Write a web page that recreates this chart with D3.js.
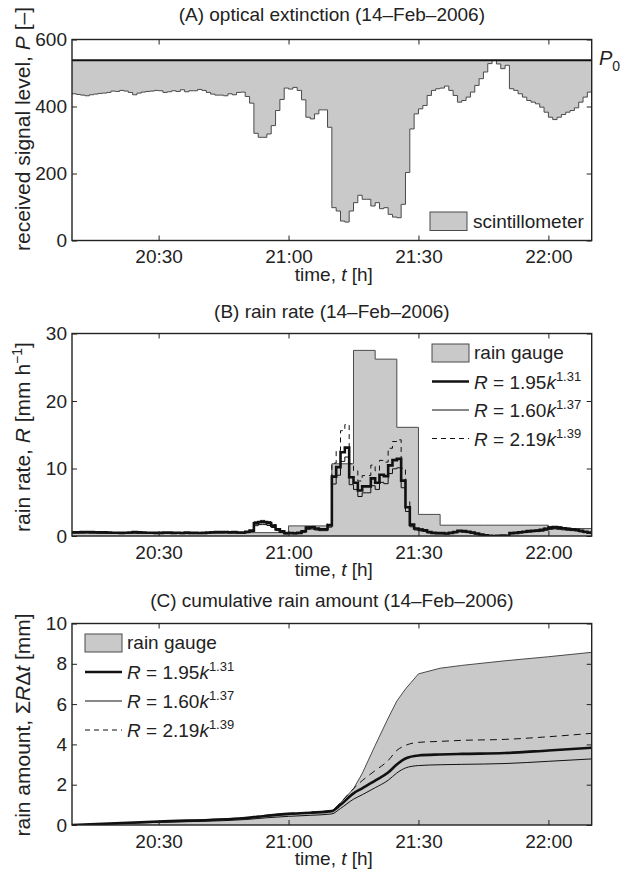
<!DOCTYPE html>
<html>
<head>
<meta charset="utf-8">
<script src="https://cdn.jsdelivr.net/npm/d3@7"></script>
<style>
  body { margin: 0; background: #fff; }
  text { font-family: "Liberation Sans", Arial, sans-serif; fill: #222; }
</style>
</head>
<body>
<svg id="chart" width="622" height="871"></svg>
<script>
// time axis
const startTime = "20:10";
const endTime = "22:10";
const tickLabels = ["20:30", "21:00", "21:30", "22:00"];

// (A) scintillometer received signal, one value per minute from 20:10
const signalLevel = [
  438,436,434,432,435,437,439,440,442,446,
  445,448,446,442,435,440,443,445,446,448,
  447,442,444,447,445,450,444,447,447,451,
  448,442,437,434,434,432,438,435,442,443,
  430,410,320,308,308,318,343,388,421,455,
  452,457,448,420,368,363,378,390,390,338,
  98,88,58,55,88,113,135,123,123,103,
  113,95,98,78,70,68,108,203,333,378,
  393,403,433,448,453,455,461,448,433,413,
  418,428,443,463,483,503,528,537,527,513,
  523,453,448,438,428,418,413,408,398,383,
  368,361,368,376,383,388,396,413,428,443
];
const p0Level = 538;
const signalTicks = [0, 200, 400, 600];

// (B) rain gauge, 5-minute bins
const gaugeBins = ["20:10","20:15","20:20","20:25","20:30","20:35","20:40","20:45",
  "20:50","20:55","21:00","21:05","21:10","21:15","21:20","21:25",
  "21:30","21:35","21:40","21:45","21:50","21:55","22:00","22:05"];
const gaugeRate = [0.5,0.5,0.5,0.5,0.5,0.5,0.5,0.5,
  0.5,0.5,1.5,1.5,10.7,27.5,26.2,16.1,
  3.2,1.6,1.6,1.6,1.6,1.6,1.1,1.1];

// (B) rain rate from scintillometer, one value per minute from 20:10
const rate195 = [
  0.55,0.56,0.58,0.60,0.57,0.56,0.54,0.53,0.52,0.48,
  0.49,0.47,0.48,0.52,0.57,0.53,0.51,0.49,0.48,0.47,
  0.47,0.52,0.50,0.47,0.49,0.45,0.50,0.47,0.47,0.45,
  0.47,0.52,0.56,0.58,0.58,0.60,0.55,0.57,0.52,0.51,
  0.62,0.80,1.87,2.05,2.05,1.90,1.54,1.01,0.69,0.42,
  0.44,0.40,0.47,0.70,1.24,1.30,1.12,0.99,0.99,1.61,
  8.8,10.2,12.4,13.1,8.7,7.90,6.74,7.35,7.35,8.53,
  7.90,9.08,8.87,10.46,11.24,11.43,8.21,4.26,1.68,1.12,
  0.96,0.86,0.59,0.47,0.43,0.42,0.37,0.47,0.59,0.77,
  0.72,0.63,0.51,0.36,0.23,0.12,0.02,0,0.03,0.08,
  0.04,0.43,0.47,0.55,0.63,0.72,0.77,0.82,0.91,1.07,
  1.24,1.32,1.24,1.14,1.07,1.01,0.93,0.77,0.63,0.51
];
const rate160 = [
  0.42,0.43,0.45,0.46,0.44,0.43,0.42,0.41,0.40,0.37,
  0.38,0.36,0.37,0.40,0.44,0.41,0.39,0.38,0.37,0.36,
  0.36,0.40,0.39,0.36,0.38,0.35,0.39,0.36,0.36,0.35,
  0.36,0.40,0.43,0.45,0.45,0.46,0.42,0.44,0.40,0.39,
  0.48,0.63,1.53,1.69,1.69,1.56,1.26,0.80,0.54,0.32,
  0.34,0.31,0.36,0.55,0.99,1.04,0.89,0.79,0.79,1.31,
  7.7,9.0,11.05,11.7,7.6,6.9,5.85,6.4,6.4,7.45,
  6.9,7.95,7.75,9.25,9.95,10.1,7.15,3.63,1.37,0.89,
  0.76,0.68,0.46,0.36,0.33,0.32,0.28,0.36,0.46,0.61,
  0.57,0.49,0.39,0.27,0.17,0.09,0.01,0,0.02,0.06,
  0.03,0.33,0.36,0.43,0.49,0.57,0.61,0.65,0.72,0.85,
  0.99,1.06,0.99,0.91,0.85,0.80,0.74,0.61,0.49,0.39
];
const rate219 = [
  0.57,0.58,0.60,0.62,0.59,0.58,0.56,0.55,0.54,0.49,
  0.50,0.48,0.49,0.54,0.59,0.55,0.53,0.50,0.49,0.48,
  0.48,0.54,0.52,0.48,0.50,0.46,0.52,0.48,0.48,0.46,
  0.48,0.54,0.58,0.60,0.60,0.62,0.57,0.59,0.54,0.53,
  0.65,0.85,2.10,2.31,2.31,2.13,1.71,1.09,0.73,0.43,
  0.45,0.41,0.48,0.74,1.35,1.42,1.22,1.07,1.07,1.79,
  10.8,12.65,15.6,16.5,10.7,9.65,8.15,8.95,8.95,10.5,
  9.65,11.2,10.95,13.0,14.0,14.25,10.05,5.05,1.87,1.22,
  1.03,0.92,0.61,0.48,0.44,0.43,0.38,0.48,0.61,0.82,
  0.77,0.66,0.53,0.37,0.23,0.12,0.02,0,0.03,0.08,
  0.04,0.44,0.48,0.57,0.66,0.77,0.82,0.87,0.97,1.16,
  1.35,1.44,1.35,1.24,1.16,1.09,1.0,0.82,0.66,0.53
];
const rateTicks = [0, 10, 20, 30];

// (C) cumulative rain amount
const cumTimes = ["20:10","20:30","20:50","20:55","21:00","21:05","21:10","21:12","21:15",
  "21:17","21:20","21:23","21:25","21:27","21:30","21:35","21:40","21:50","22:00","22:10"];
const cumGauge = [0,0.17,0.35,0.44,0.52,0.6,0.67,1.1,1.8,2.55,3.95,5.3,6.15,6.75,7.5,7.78,7.92,8.15,8.35,8.57];
const cum195 = [0,0.17,0.35,0.46,0.55,0.61,0.69,1.0,1.57,1.82,2.2,2.6,3.0,3.3,3.45,3.5,3.53,3.57,3.7,3.83];
const cum160 = [0,0.13,0.27,0.36,0.43,0.48,0.55,0.82,1.28,1.5,1.85,2.22,2.58,2.83,2.95,2.99,3.01,3.05,3.16,3.28];
const cum219 = [0,0.17,0.36,0.49,0.58,0.64,0.73,1.12,1.8,2.2,2.7,3.2,3.7,3.95,4.1,4.15,4.2,4.25,4.38,4.55];
const cumTicks = [0, 2, 4, 6, 8, 10];

const fitLabels = [
  { a: "1.95", b: "1.31", width: 2.6, dash: null },
  { a: "1.60", b: "1.37", width: 1, dash: null },
  { a: "2.19", b: "1.39", width: 1, dash: "5,4" }
];

const parseTime = d3.timeParse("%H:%M");
const t0 = parseTime(startTime);
const fontSize = 19;
const labelSize = 21;
const grey = "#c9c9c9";
const edge = "#4a4a4a";

const svg = d3.select("#chart");
const left = 72, right = 591.7;

const x = d3.scaleTime()
  .domain([t0, parseTime(endTime)])
  .range([left, right]);

function perMinute(values) {
  const pts = values.map((v, i) => ({ t: d3.timeMinute.offset(t0, i), v: v }));
  pts.push({ t: d3.timeMinute.offset(t0, values.length), v: values[values.length - 1] });
  return pts;
}

function drawFrame(g, y, ticks, top, bottom, id) {
  g.append("clipPath").attr("id", id)
    .append("rect").attr("x", left).attr("y", top)
    .attr("width", right - left).attr("height", bottom - top);

  g.append("g").attr("transform", "translate(0," + bottom + ")")
    .call(d3.axisBottom(x).tickValues(tickLabels.map(parseTime))
      .tickFormat(d3.timeFormat("%H:%M")).tickSizeInner(-5).tickSizeOuter(0).tickPadding(9.5));
  g.append("g").attr("transform", "translate(" + left + ",0)")
    .call(d3.axisLeft(y).tickValues(ticks).tickSizeInner(-5).tickSizeOuter(0).tickPadding(5));
  g.append("g").attr("transform", "translate(0," + top + ")")
    .call(d3.axisTop(x).tickValues(tickLabels.map(parseTime)).tickSizeInner(-5).tickSizeOuter(0).tickFormat(""));
  g.append("g").attr("transform", "translate(" + right + ",0)")
    .call(d3.axisRight(y).tickValues(ticks).tickSizeInner(-5).tickSizeOuter(0).tickFormat(""));

  g.selectAll(".domain").remove();
  g.selectAll(".tick line").attr("stroke", "#222").attr("stroke-width", 1);
  g.selectAll(".tick text").attr("font-size", fontSize)
    .attr("font-family", "Liberation Sans, Arial, sans-serif").attr("fill", "#222");

  g.append("rect").attr("x", left).attr("y", top)
    .attr("width", right - left).attr("height", bottom - top)
    .attr("fill", "none").attr("stroke", "#222").attr("stroke-width", 1.4);
}

function titleAndXLabel(g, title, titleY, bottom) {
  g.append("text").attr("x", (left + right) / 2).attr("y", titleY)
    .attr("text-anchor", "middle").attr("font-size", fontSize).text(title);
  const t = g.append("text").attr("x", (left + right) / 2 + 2).attr("y", bottom + 40)
    .attr("text-anchor", "middle").attr("font-size", fontSize);
  t.append("tspan").text("time, ");
  t.append("tspan").attr("font-style", "italic").text("t");
  t.append("tspan").text(" [h]");
}

function yLabel(g, cy, parts) {
  const t = g.append("text").attr("transform", "translate(30," + cy + ") rotate(-90)")
    .attr("text-anchor", "middle").attr("font-size", labelSize);
  parts.forEach(p => {
    const s = t.append("tspan").text(p.s);
    if (p.i) s.attr("font-style", "italic");
    if (p.sup) s.attr("font-size", 14).attr("dy", -8);
    if (p.down) s.attr("dy", 8);
  });
}

function legendEntries(g, lx, ly, step) {
  g.append("rect").attr("x", lx).attr("y", ly - 9).attr("width", 37).attr("height", 18)
    .attr("fill", grey).attr("stroke", edge).attr("stroke-width", 1);
  g.append("text").attr("x", lx + 42).attr("y", ly + 6).attr("font-size", fontSize).text("rain gauge");
  fitLabels.forEach((f, i) => {
    const yy = ly + step * (i + 1);
    g.append("line").attr("x1", lx).attr("x2", lx + 37).attr("y1", yy).attr("y2", yy)
      .attr("stroke", "#111").attr("stroke-width", f.width)
      .attr("stroke-dasharray", f.dash);
    const t = g.append("text").attr("x", lx + 42).attr("y", yy + 7).attr("font-size", fontSize);
    t.append("tspan").attr("font-style", "italic").text("R");
    t.append("tspan").text(" = " + f.a);
    t.append("tspan").attr("font-style", "italic").text("k");
    t.append("tspan").attr("font-size", 13).attr("dy", -8).text(f.b);
  });
}

// ---------- (A) optical extinction ----------
{
  const top = 39.5, bottom = 240.5;
  const g = svg.append("g");
  const y = d3.scaleLinear().domain([0, 600]).range([bottom, top]);
  const pts = perMinute(signalLevel);

  g.append("path").datum(pts)
    .attr("clip-path", "url(#clipA)")
    .attr("d", d3.area().curve(d3.curveStepAfter)
      .x(d => x(d.t)).y0(y(p0Level)).y1(d => y(d.v)))
    .attr("fill", grey);
  g.append("path").datum(pts)
    .attr("clip-path", "url(#clipA)")
    .attr("d", d3.line().curve(d3.curveStepAfter).x(d => x(d.t)).y(d => y(d.v)))
    .attr("fill", "none").attr("stroke", edge).attr("stroke-width", 1);
  g.append("line").attr("x1", left).attr("x2", right)
    .attr("y1", y(p0Level)).attr("y2", y(p0Level))
    .attr("stroke", "#111").attr("stroke-width", 2.2);

  drawFrame(g, y, signalTicks, top, bottom, "clipA");
  titleAndXLabel(g, "(A) optical extinction (14\u2013Feb\u20132006)", 21, bottom);

  const p = g.append("text").attr("x", 599).attr("y", y(p0Level) + 5).attr("font-size", 20);
  p.append("tspan").attr("font-style", "italic").text("P");
  p.append("tspan").attr("font-size", 14).attr("dy", 6).text("0");

  g.append("rect").attr("x", 430).attr("y", 212).attr("width", 37).attr("height", 18.5)
    .attr("fill", grey).attr("stroke", edge).attr("stroke-width", 1);
  g.append("text").attr("x", 473).attr("y", 228).attr("font-size", fontSize).text("scintillometer");

  yLabel(g, 129, [{ s: "received signal level, " }, { s: "P", i: true }, { s: " [\u2013]" }]);
}

// ---------- (B) rain rate ----------
{
  const top = 333.5, bottom = 536;
  const g = svg.append("g");
  const y = d3.scaleLinear().domain([0, 30]).range([bottom, top]);

  const gpts = gaugeBins.map((s, i) => ({ t: parseTime(s), v: gaugeRate[i] }));
  gpts.push({ t: parseTime(endTime), v: gaugeRate[gaugeRate.length - 1] });

  g.append("path").datum(gpts).attr("clip-path", "url(#clipB)")
    .attr("d", d3.area().curve(d3.curveStepAfter).x(d => x(d.t)).y0(y(0)).y1(d => y(d.v)))
    .attr("fill", grey);
  g.append("path").datum(gpts).attr("clip-path", "url(#clipB)")
    .attr("d", d3.line().curve(d3.curveStepAfter).x(d => x(d.t)).y(d => y(d.v)))
    .attr("fill", "none").attr("stroke", edge).attr("stroke-width", 1);

  const stepLine = d3.line().curve(d3.curveStepAfter).x(d => x(d.t)).y(d => y(d.v));
  [[rate219, 1, "5,4"], [rate160, 1, null], [rate195, 2.6, null]].forEach(([vals, w, dash]) => {
    g.append("path").datum(perMinute(vals)).attr("clip-path", "url(#clipB)")
      .attr("d", stepLine).attr("fill", "none")
      .attr("stroke", "#111").attr("stroke-width", w).attr("stroke-dasharray", dash);
  });

  drawFrame(g, y, rateTicks, top, bottom, "clipB");
  titleAndXLabel(g, "(B) rain rate (14\u2013Feb\u20132006)", 318, bottom);
  legendEntries(g, 432, 353, 28.5);

  yLabel(g, 437, [{ s: "rain rate, " }, { s: "R", i: true }, { s: " [mm h" }, { s: "\u22121", sup: true }, { s: "]", down: true }]);
}

// ---------- (C) cumulative rain amount ----------
{
  const top = 623.5, bottom = 825;
  const g = svg.append("g");
  const y = d3.scaleLinear().domain([0, 10]).range([bottom, top]);
  const times = cumTimes.map(parseTime);

  g.append("path").datum(cumGauge).attr("clip-path", "url(#clipC)")
    .attr("d", d3.area().x((d, i) => x(times[i])).y0(y(0)).y1(d => y(d)))
    .attr("fill", grey);
  g.append("path").datum(cumGauge).attr("clip-path", "url(#clipC)")
    .attr("d", d3.line().x((d, i) => x(times[i])).y(d => y(d)))
    .attr("fill", "none").attr("stroke", edge).attr("stroke-width", 1);

  const smooth = d3.line().curve(d3.curveMonotoneX).x((d, i) => x(times[i])).y(d => y(d));
  [[cum219, 1, "7,5"], [cum160, 1, null], [cum195, 2.6, null]].forEach(([vals, w, dash]) => {
    g.append("path").datum(vals).attr("clip-path", "url(#clipC)")
      .attr("d", smooth).attr("fill", "none")
      .attr("stroke", "#111").attr("stroke-width", w).attr("stroke-dasharray", dash);
  });

  drawFrame(g, y, cumTicks, top, bottom, "clipC");
  titleAndXLabel(g, "(C) cumulative rain amount (14\u2013Feb\u20132006)", 607, bottom);
  legendEntries(g, 85, 643, 29);

  yLabel(g, 725, [{ s: "rain amount, \u03a3" }, { s: "R", i: true }, { s: "\u0394" }, { s: "t", i: true }, { s: " [mm]" }]);
}
</script>
</body>
</html>
